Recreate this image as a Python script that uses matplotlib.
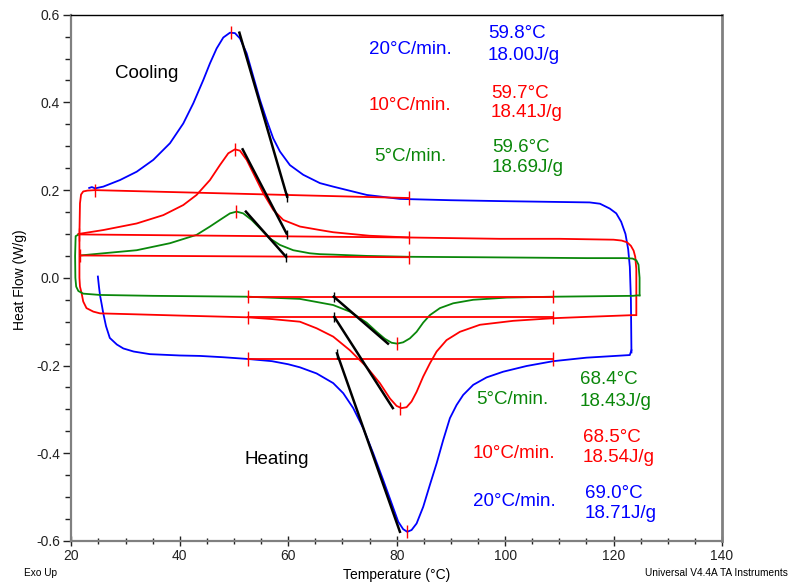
import matplotlib
matplotlib.use("Agg")
import matplotlib.pyplot as plt

plt.rcParams['font.family'] = ['Liberation Sans', 'DejaVu Sans']

BLUE = '#0000ff'
RED = '#ff0000'
GREEN = '#0a870a'

# ---------------- data (Temperature °C, Heat Flow W/g) ----------------
blue_heat_T = [24.9, 25.1, 25.3, 25.6, 25.9, 26.4, 27.1, 28.4, 29.6, 31.5, 34.5, 40.0, 43.7, 48.0,
               52.6, 57.0, 60.0, 62.16, 65.24, 68.3, 70.15, 71.99, 73.84, 75.68, 77.52, 79.07,
               80.29, 81.2, 81.95, 82.75, 83.68, 84.9, 86.13, 87.37, 88.58, 89.82, 91.05, 92.27,
               94.12, 96.58, 99.65, 103.96, 108.87, 115.0, 123.0, 123.3]
blue_heat_HF = [0.003, -0.02, -0.04, -0.06, -0.081, -0.11, -0.137, -0.152, -0.161, -0.168, -0.174,
                -0.177, -0.178, -0.181, -0.185, -0.19, -0.197, -0.204, -0.218, -0.240, -0.263,
                -0.297, -0.343, -0.400, -0.461, -0.514, -0.556, -0.573, -0.579, -0.575, -0.56,
                -0.522, -0.472, -0.423, -0.370, -0.320, -0.290, -0.267, -0.244, -0.227, -0.214,
                -0.201, -0.190, -0.182, -0.176, -0.165]

blue_cool_T = [23.3, 23.8, 24.37, 25.9, 28.98, 32.06, 35.12, 38.2, 40.65, 42.5, 44.34, 45.57, 46.8,
               48.03, 49.26, 50.18, 51.1, 52.34, 53.56, 54.79, 56.02, 57.24, 58.48, 60.32, 62.77,
               65.85, 68.3, 74.5, 80.6, 90.0, 99.0, 110.0, 115.6, 117.5, 119.3, 120.5, 121.4,
               122.2, 122.7, 123.0, 123.2, 123.3]
blue_cool_HF = [0.205, 0.207, 0.204, 0.208, 0.223, 0.242, 0.269, 0.307, 0.352, 0.398, 0.451, 0.489,
                0.523, 0.548, 0.559, 0.558, 0.546, 0.512, 0.459, 0.406, 0.36, 0.318, 0.288, 0.257,
                0.235, 0.216, 0.208, 0.189, 0.180, 0.177, 0.175, 0.173, 0.172, 0.169, 0.158, 0.147,
                0.128, 0.100, 0.065, 0.025, -0.05, -0.17]

red_heat_T = [24.4, 23.0, 22.2, 21.8, 21.6, 21.5, 21.5, 21.6, 21.9, 22.2, 22.8, 24.06, 25.3, 31.4,
              40.0, 52.6, 57.0, 62.16, 65.24, 68.3, 71.37, 74.45, 76.9, 78.76, 79.99, 80.9, 81.83,
              82.75, 83.68, 84.9, 86.13, 87.37, 89.2, 91.67, 95.35, 101.5, 108.87, 115.0, 123.6,
              124.1]
red_heat_HF = [0.200, 0.199, 0.197, 0.19, 0.17, 0.1, 0.0, -0.02, -0.035, -0.054, -0.069, -0.077,
               -0.081, -0.083, -0.086, -0.09, -0.094, -0.1, -0.115, -0.134, -0.165, -0.203, -0.24,
               -0.275, -0.292, -0.297, -0.295, -0.282, -0.26, -0.225, -0.195, -0.168, -0.142,
               -0.123, -0.107, -0.098, -0.092, -0.089, -0.085, -0.085]

red_cool_T = [21.29, 25.9, 32.06, 36.96, 40.65, 43.1, 45.57, 47.4, 48.95, 50.18, 51.1, 52.34, 53.87,
              55.4, 57.24, 59.09, 62.16, 65.85, 68.3, 75.0, 82.4, 99.0, 110.0, 115.0, 120.0,
              121.5, 122.5, 123.2, 123.7, 124.0, 124.2, 124.2]
red_cool_HF = [0.1, 0.109, 0.124, 0.143, 0.166, 0.189, 0.223, 0.257, 0.284, 0.293, 0.29, 0.269,
               0.231, 0.193, 0.155, 0.132, 0.117, 0.109, 0.104, 0.096, 0.092, 0.089, 0.089, 0.088,
               0.087, 0.085, 0.081, 0.073, 0.062, 0.048, 0.02, -0.085]

green_heat_T = [21.5, 20.8, 20.7, 20.75, 20.9, 21.3, 22.2, 25.3, 35.0, 52.6, 62.16, 65.24, 68.3,
                71.37, 74.45, 76.3, 77.83, 79.07, 80.1, 81.2, 82.44, 83.68, 84.9, 86.13, 87.98,
                90.43, 94.12, 100.3, 108.87, 123.6, 124.4, 124.8]
green_heat_HF = [0.1, 0.095, 0.05, 0.0, -0.02, -0.03, -0.036, -0.039, -0.041, -0.043, -0.048,
                 -0.055, -0.062, -0.077, -0.102, -0.123, -0.139, -0.148, -0.15, -0.147, -0.138,
                 -0.123, -0.102, -0.085, -0.069, -0.058, -0.05, -0.045, -0.043, -0.041, -0.04,
                 -0.04]

green_cool_T = [21.6, 25.9, 32.06, 38.2, 43.1, 45.57, 47.4, 49.26, 50.49, 51.7, 53.26, 54.79, 56.6,
                58.48, 60.93, 64.0, 65.85, 68.3, 74.5, 82.4, 95.0, 105.2, 115.0, 122.0, 123.5,
                124.2, 124.6, 124.8, 124.8]
green_cool_HF = [0.051, 0.056, 0.063, 0.079, 0.098, 0.117, 0.132, 0.147, 0.151, 0.147, 0.132, 0.113,
                 0.09, 0.075, 0.063, 0.056, 0.054, 0.053, 0.05, 0.048, 0.047, 0.046, 0.045, 0.045,
                 0.044, 0.04, 0.03, 0.0, -0.04]

# integration baselines (start T, start HF, end T, end HF)
cool_base_T0 = [24.4, 21.4, 21.6]
cool_base_H0 = [0.200, 0.099, 0.051]
cool_base_T1 = [82.3, 82.3, 82.3]
cool_base_H1 = [0.182, 0.092, 0.047]
heat_base_T0 = [52.6, 52.6, 52.6]
heat_base_T1 = [108.9, 108.9, 108.9]
heat_base_H = [-0.185, -0.090, -0.043]

# peak positions
cool_peak_T = [49.4, 50.1, 50.4]
cool_peak_H = [0.560, 0.293, 0.151]
heat_peak_T = [82.0, 80.7, 80.1]
heat_peak_H = [-0.579, -0.297, -0.150]

# onset tangents (onset point, other end)
cool_onset_T = [59.8, 59.7, 59.6]
cool_onset_H = [0.185, 0.101, 0.048]
cool_tan_T = [51.0, 51.6, 52.2]
cool_tan_H = [0.559, 0.293, 0.151]
heat_onset_T = [69.0, 68.5, 68.4]
heat_onset_H = [-0.172, -0.089, -0.043]
heat_tan_T = [80.6, 79.3, 78.4]
heat_tan_H = [-0.579, -0.297, -0.150]

rates = ['20°C/min.', '10°C/min.', '5°C/min.']
colors = [BLUE, RED, GREEN]
cool_onset_lbl = ['59.8°C', '59.7°C', '59.6°C']
cool_enth_lbl = ['18.00J/g', '18.41J/g', '18.69J/g']
heat_onset_lbl = ['69.0°C', '68.5°C', '68.4°C']
heat_enth_lbl = ['18.71J/g', '18.54J/g', '18.43J/g']

# ---------------- figure ----------------
W, H = 790, 583
fig = plt.figure(figsize=(W / 100, H / 100), dpi=100)
ax = fig.add_axes([71.3 / W, 1 - 541 / H, (722 - 71.3) / W, (541 - 14.7) / H])

lw = 1.3
ax.plot(blue_heat_T, blue_heat_HF, color=BLUE, lw=lw)
ax.plot(blue_cool_T, blue_cool_HF, color=BLUE, lw=lw)
ax.plot(red_heat_T, red_heat_HF, color=RED, lw=lw)
ax.plot(red_cool_T, red_cool_HF, color=RED, lw=lw)
ax.plot(green_heat_T, green_heat_HF, color=GREEN, lw=lw)
ax.plot(green_cool_T, green_cool_HF, color=GREEN, lw=lw)

tick = 0.015
for i in range(3):
    ax.plot([cool_base_T0[i], cool_base_T1[i]], [cool_base_H0[i], cool_base_H1[i]], color=RED, lw=1.3)
    ax.vlines([cool_base_T0[i]], cool_base_H0[i] - tick, cool_base_H0[i] + tick, color=RED, lw=1)
    ax.vlines([cool_base_T1[i]], cool_base_H1[i] - tick, cool_base_H1[i] + tick, color=RED, lw=1)
    ax.plot([heat_base_T0[i], heat_base_T1[i]], [heat_base_H[i], heat_base_H[i]], color=RED, lw=1.3)
    ax.vlines([heat_base_T0[i], heat_base_T1[i]], heat_base_H[i] - tick, heat_base_H[i] + tick,
              color=RED, lw=1)
    ax.vlines([cool_peak_T[i]], cool_peak_H[i] - tick, cool_peak_H[i] + tick, color=RED, lw=1)
    ax.vlines([heat_peak_T[i]], heat_peak_H[i] - tick, heat_peak_H[i] + tick, color=RED, lw=1)
    ax.plot([cool_tan_T[i], cool_onset_T[i]], [cool_tan_H[i], cool_onset_H[i]], color='black', lw=1.8)
    ax.vlines([cool_onset_T[i]], cool_onset_H[i] - 0.012, cool_onset_H[i] + 0.008, color='black', lw=1)
    ax.plot([heat_onset_T[i], heat_tan_T[i]], [heat_onset_H[i], heat_tan_H[i]], color='black', lw=1.8)
    ax.vlines([heat_onset_T[i]], heat_onset_H[i] - 0.012, heat_onset_H[i] + 0.01, color='black', lw=1)

ax.set_xlim(20, 140)
ax.set_ylim(-0.6, 0.6)
ax.set_xticks([20, 40, 60, 80, 100, 120, 140])
ax.set_xticks(range(20, 141, 5), minor=True)
ax.set_yticks([-0.6, -0.4, -0.2, 0.0, 0.2, 0.4, 0.6])
ax.set_yticklabels(['-0.6', '-0.4', '-0.2', '0.0', '0.2', '0.4', '0.6'])
ax.set_yticks([v / 100 for v in range(-60, 61, 5)], minor=True)
ax.tick_params(axis='x', which='major', direction='inout', length=7, width=1, labelsize=10,
               colors='#222222', pad=2)
ax.tick_params(axis='x', which='minor', direction='inout', length=5, width=1, colors='#222222')
ax.tick_params(axis='y', which='major', direction='out', length=6, width=1, labelsize=10,
               colors='#222222', pad=2)
ax.tick_params(axis='y', which='minor', direction='out', length=4, width=1, colors='#222222')

for s in ['left', 'bottom']:
    ax.spines[s].set_color('#808080')
    ax.spines[s].set_linewidth(1.6)
ax.spines['right'].set_color('#808080')
ax.spines['right'].set_linewidth(2.0)
ax.spines['top'].set_color('black')
ax.spines['top'].set_linewidth(1.0)

def ftext(x, y, s, **kw):
    fig.text(x / W, 1 - y / H, s, **kw)

fs = 13.5
ftext(115, 73, 'Cooling', fontsize=fs, va='center', ha='left')
ftext(245, 460, 'Heating', fontsize=fs, va='center', ha='left')

cool_rate_xy = [(369, 49), (369, 105), (374, 157)]
cool_val_xy = [(488, 34, 56), (491, 93, 113), (492, 148, 168)]
heat_rate_xy = [(473, 502), (473, 453), (476, 400)]
heat_val_xy = [(585, 493, 514), (583, 437, 458), (580, 379, 401)]
for i in range(3):
    c = colors[i]
    ftext(cool_rate_xy[i][0], cool_rate_xy[i][1], rates[i], color=c, fontsize=fs, va='center')
    ftext(cool_val_xy[i][0], cool_val_xy[i][1], cool_onset_lbl[i], color=c, fontsize=fs, va='center')
    ftext(cool_val_xy[i][0], cool_val_xy[i][2], cool_enth_lbl[i], color=c, fontsize=fs, va='center')
    ftext(heat_rate_xy[i][0], heat_rate_xy[i][1], rates[i], color=c, fontsize=fs, va='center')
    ftext(heat_val_xy[i][0], heat_val_xy[i][1], heat_onset_lbl[i], color=c, fontsize=fs, va='center')
    ftext(heat_val_xy[i][0], heat_val_xy[i][2], heat_enth_lbl[i], color=c, fontsize=fs, va='center')

ftext(20, 280, 'Heat Flow (W/g)', fontsize=10, rotation=90, va='center', ha='center')
ftext(397, 575, 'Temperature (°C)', fontsize=10, va='center', ha='center')
ftext(24, 573, 'Exo Up', fontsize=7.3, va='center', ha='left')
ftext(645, 573, 'Universal V4.4A TA Instruments', fontsize=7.3, va='center', ha='left')

fig.savefig('out.png', dpi=100)
